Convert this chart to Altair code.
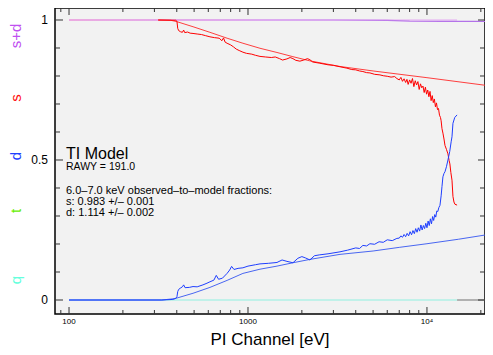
import altair as alt
import pandas as pd

# ---------------- data ----------------
sd_model_e = [100, 3000, 6000, 8000, 12000, 21100]
sd_model_v = [1.0, 1.0, 0.999, 0.996, 0.995, 0.995]
sd_data_e = [100, 14730]
sd_data_v = [1.0, 1.0]

q_e = [100, 14730]
q_v = [0.0, 0.0]
grey_e = [14730, 21100]
grey_v = [0.0, 0.0]

s_model_e = [315, 370, 401, 493, 613, 764, 937, 1167, 1452, 1783, 2218, 3266, 5000, 10000, 21100]
s_model_v = [1.0, 0.999, 0.994, 0.976, 0.956, 0.935, 0.917, 0.899, 0.884, 0.869, 0.854, 0.834, 0.818, 0.794, 0.767]

s_data_e = [315, 395, 401, 405, 410, 420, 430, 437, 443, 460, 475, 493, 520, 550, 580, 613, 650, 690,
            715, 730, 745, 764, 800, 830, 860, 900, 937, 980, 1050, 1100, 1167, 1250, 1350, 1420, 1500, 1560,
            1650, 1720, 1783, 1850, 1950, 2050, 2150, 2218, 2300, 2500, 2800, 3000, 3266, 3570, 3800, 4000,
            4200, 4385, 4600, 4800, 5100, 5460, 5700, 6000, 6300, 6600, 6790,
            7000, 7150, 7300, 7450, 7600, 7730, 7850, 8000, 8150, 8300, 8450, 8600, 8750, 8900, 9050, 9200,
            9350, 9500, 9650, 9800, 9950, 10100, 10250, 10400, 10550, 10700, 10850, 11000, 11150, 11300,
            11450, 11600, 11750, 11900, 12000, 12130, 12280, 12450, 12610, 12850, 13100, 13300, 13430, 13600,
            13800, 13970, 14150, 14330, 14730]
s_data_v = [1.0, 0.999, 0.995, 0.970, 0.962, 0.958, 0.956, 0.964, 0.955, 0.957, 0.953, 0.952, 0.950,
            0.948, 0.944, 0.940, 0.937, 0.935, 0.926, 0.936, 0.921, 0.917, 0.911, 0.904, 0.896, 0.890, 0.885,
            0.881, 0.878, 0.874, 0.870, 0.868, 0.866, 0.868, 0.862, 0.857, 0.861, 0.866, 0.862, 0.856, 0.853,
            0.857, 0.862, 0.858, 0.850, 0.846, 0.840, 0.838, 0.833, 0.828, 0.823, 0.822, 0.818, 0.816, 0.812,
            0.811, 0.806, 0.804, 0.801, 0.799, 0.796, 0.798, 0.791,
            0.786, 0.795, 0.781, 0.790, 0.777, 0.788, 0.770, 0.786, 0.774, 0.791, 0.762, 0.783, 0.768, 0.780,
            0.752, 0.772, 0.758, 0.764, 0.741, 0.760, 0.735, 0.750, 0.726, 0.745, 0.712, 0.730, 0.705, 0.718,
            0.690, 0.704, 0.680, 0.684, 0.660, 0.652, 0.640, 0.612, 0.596, 0.575, 0.552, 0.538, 0.522, 0.498,
            0.486, 0.455, 0.428, 0.370, 0.350, 0.342, 0.339]

d_model_e = [100, 330, 391, 493, 613, 764, 937, 1167, 1452, 1783, 2218, 3266, 5000, 7000, 10000, 15000, 21100]
d_model_v = [0.0, 0.0, 0.005, 0.024, 0.045, 0.070, 0.095, 0.110, 0.121, 0.133, 0.145, 0.163, 0.175, 0.188,
             0.201, 0.217, 0.232]

d_data_e = [100, 330, 380, 395, 401, 405, 410, 418, 430, 437, 445, 470, 493, 520, 560, 590, 613, 645, 665,
            685, 720, 764, 790, 810, 835, 880, 937, 1000, 1100, 1167, 1300, 1452, 1550, 1650, 1783, 1900,
            2000, 2100, 2218, 2350, 2500, 2800, 3266, 3600, 4000, 4200, 4385, 4600, 4800, 5100, 5400, 5700,
            6000, 6400, 6790,
            7000, 7150, 7300, 7450, 7600, 7750, 7900, 8050, 8200, 8350, 8500, 8650, 8800, 8950, 9100, 9250,
            9400, 9550, 9700, 9850, 10000, 10150, 10300, 10450, 10600, 10750, 10900, 11050, 11200, 11350,
            11500, 11650, 11820, 12000, 12130, 12280, 12450, 12610, 12850, 13100, 13400, 13650, 13800, 13970,
            14300, 14730]
d_data_v = [0.0, 0.0, 0.002, 0.006, 0.012, 0.030, 0.038, 0.042, 0.047, 0.054, 0.044, 0.045, 0.048, 0.047,
            0.054, 0.060, 0.065, 0.071, 0.088, 0.074, 0.078, 0.095, 0.107, 0.120, 0.109, 0.113, 0.115, 0.121,
            0.126, 0.129, 0.131, 0.134, 0.143, 0.138, 0.133, 0.149, 0.155, 0.150, 0.143, 0.158, 0.161, 0.165,
            0.172, 0.178, 0.186, 0.184, 0.195, 0.193, 0.201, 0.199, 0.208, 0.206, 0.215, 0.212, 0.220,
            0.221, 0.229, 0.224, 0.234, 0.226, 0.238, 0.229, 0.244, 0.233, 0.248, 0.237, 0.255, 0.242, 0.258,
            0.246, 0.268, 0.250, 0.266, 0.255, 0.274, 0.258, 0.282, 0.266, 0.290, 0.272, 0.298, 0.284, 0.305,
            0.296, 0.318, 0.316, 0.330, 0.338, 0.372, 0.405, 0.440, 0.452, 0.458, 0.476, 0.500, 0.530, 0.565,
            0.583, 0.631, 0.652, 0.661]

# axis ticks / labels
x_major = [100, 1000, 10000]
x_major_labels = ["100", "1000", "10⁴"]
x_minor = [90, 200, 300, 400, 500, 600, 700, 800, 900, 2000, 3000, 4000, 5000, 6000, 7000, 8000, 9000, 20000]
y_major = [0, 0.5, 1]
y_major_labels = ["0", "0.5", "1"]
y_minor = [0.1, 0.2, 0.3, 0.4, 0.6, 0.7, 0.8, 0.9]

x_title = "PI Channel [eV]"
side_labels = ["s+d", "s", "d", "t", "q"]
side_colors = ["#c050f0", "#ff1010", "#1f3fff", "#66ee00", "#66ffdd"]
ann_title = "TI Model"
ann_rawy = "RAWY = 191.0"
ann_lines = ["6.0–7.0 keV observed–to–model fractions:",
             "s: 0.983 +/– 0.001",
             "d: 1.114 +/– 0.002"]

# ---------------- chart ----------------
W, H = 430, 306
FONT = "Liberation Sans"
TICK = "#333333"

xs = alt.Scale(type="log", domain=[83.5, 21100], nice=False)
ys = alt.Scale(domain=[-0.05, 1.042857], nice=False, zero=False)
X = lambda f="e": alt.X(f"{f}:Q", scale=xs, axis=None)
Y = lambda f="v": alt.Y(f"{f}:Q", scale=ys, axis=None)


def line_layer(e, v, color, width=1.0):
    return alt.Chart(pd.DataFrame({"e": e, "v": v})).mark_line(
        color=color, strokeWidth=width, clip=True).encode(x=X(), y=Y())


layers = []
layers.append(line_layer(q_e, q_v, "#90f0e0", 1.0))
layers.append(line_layer(grey_e, grey_v, "#707070", 1.0))
layers.append(line_layer(sd_data_e, sd_data_v, "#e4a8f2", 1.0))
grad = alt.Gradient(gradient="linear", x1=0, x2=1, y1=0, y2=0,
                    stops=[alt.GradientStop(offset=0, color="#ec88d0"),
                           alt.GradientStop(offset=0.5, color="#cc88ee"),
                           alt.GradientStop(offset=1, color="#b070e8")])
layers.append(alt.Chart(pd.DataFrame({"e": sd_model_e, "v": sd_model_v}))
              .mark_line(color=grad, strokeWidth=1.2, clip=True).encode(x=X(), y=Y()))
layers.append(line_layer(s_model_e, s_model_v, "#ff2a2a", 0.9))
layers.append(line_layer(s_data_e, s_data_v, "#ff0000", 1.0))
layers.append(line_layer(d_model_e, d_model_v, "#3656f0", 0.9))
layers.append(line_layer(d_data_e, d_data_v, "#1f3fff", 1.0))


def xtick_layer(vals, length, top):
    if top:
        yv, y2v = alt.value(0), alt.value(length)
    else:
        yv, y2v = alt.value(H), alt.value(H - length)
    return alt.Chart(pd.DataFrame({"e": vals})).mark_rule(color=TICK, strokeWidth=1).encode(
        x=X(), y=yv, y2=y2v)


def ytick_layer(vals, length, right):
    if right:
        xv, x2v = alt.value(W), alt.value(W - length)
    else:
        xv, x2v = alt.value(0), alt.value(length)
    return alt.Chart(pd.DataFrame({"v": vals})).mark_rule(color=TICK, strokeWidth=1).encode(
        y=Y(), x=xv, x2=x2v)


layers += [xtick_layer(x_major, 7, False), xtick_layer(x_major, 7, True),
           xtick_layer(x_minor, 4, False), xtick_layer(x_minor, 4, True),
           ytick_layer(y_major, 8, False), ytick_layer(y_major, 7, True),
           ytick_layer(y_minor, 5, False), ytick_layer(y_minor, 5, True)]

# tick labels (drawn through the scales)
layers.append(alt.Chart(pd.DataFrame({"e": x_major, "t": x_major_labels})).mark_text(
    align="center", baseline="middle", fontSize=8, color="black", font=FONT).encode(
    x=X(), y=alt.value(H + 8), text="t:N"))
layers.append(alt.Chart(pd.DataFrame({"v": y_major, "t": y_major_labels})).mark_text(
    align="right", baseline="middle", fontSize=12, color="black", font=FONT).encode(
    y=Y(), x=alt.value(-7), text="t:N"))


def text_layer(txt, x, y, size, color="black", angle=0, align="left", baseline="alphabetic"):
    kw = dict(align=align, baseline=baseline, fontSize=size, color=color, font=FONT)
    if angle:
        kw["angle"] = angle
    return alt.Chart(pd.DataFrame({"t": [txt]})).mark_text(**kw).encode(
        text="t:N", x=alt.value(x), y=alt.value(y))


layers.append(text_layer(x_title, W / 2, H + 31, 17, align="center"))
layers.append(text_layer(ann_title, 11, 151, 16))
layers.append(text_layer(ann_rawy, 11, 162, 10.5))
for txt, yy in zip(ann_lines, [186, 197, 208]):
    layers.append(text_layer(txt, 11, yy, 11))

for txt, col, yy in zip(side_labels, side_colors, [28, 90, 148, 203, 272]):
    layers.append(text_layer(txt, -39, yy, 15, color=col, angle=270, align="center", baseline="middle"))

chart = alt.layer(*layers).properties(
    width=W, height=H,
    padding={"left": 47, "top": 0, "right": 0, "bottom": 40},
    autosize=alt.AutoSizeParams(type="none"),
).configure(font=FONT, background="white").configure_view(
    fill="#f2f2f2", stroke="black", strokeWidth=1.5)

chart.save("out.html", embed_options={"renderer": "svg", "actions": False})
